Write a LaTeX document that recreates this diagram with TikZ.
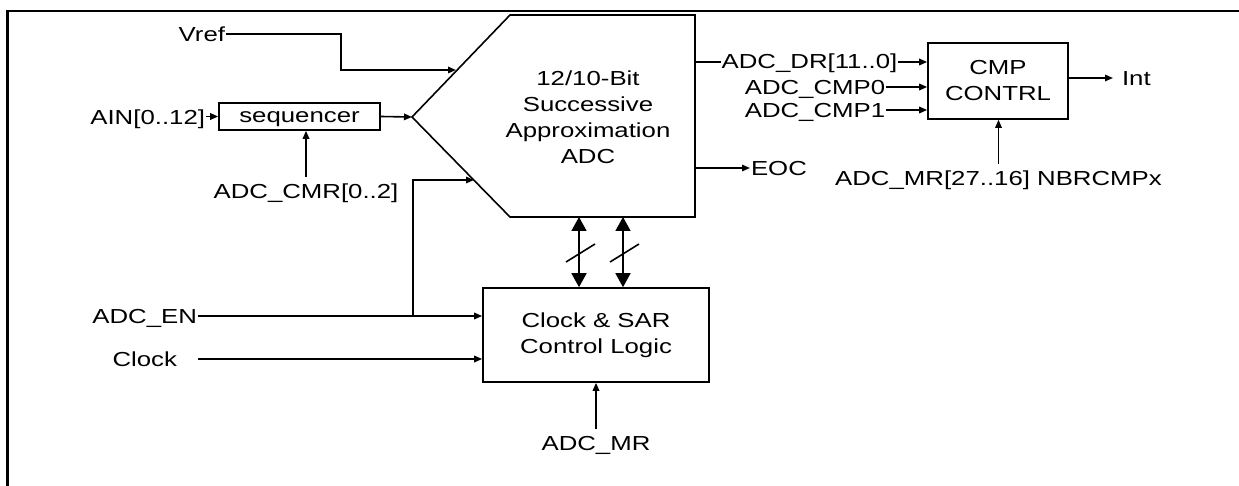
\documentclass[tikz,border=0pt]{standalone}
\usepackage{fontspec}
\setmainfont{Liberation Sans}[FakeStretch=1.27]
\usetikzlibrary{arrows.meta,calc}
\begin{document}
\begin{tikzpicture}[x=1pt,y=-1pt,
  every node/.style={font=\fontsize{20.3}{26}\selectfont},
  lbl/.style={inner sep=0pt,outer sep=1pt,text height=14.5pt,text depth=0pt},
  blk/.style={draw,line width=1.6pt,inner sep=0pt,align=center},
  sblk/.style={draw,line width=1.6pt,inner sep=0pt,text height=14pt,text depth=1pt},
  wire/.style={line width=1.6pt},
  arr/.style={wire,-{Triangle[length=8pt,width=6.5pt]}},
  bigarr/.style={wire,{Triangle[length=14pt,width=15pt]}-{Triangle[length=14pt,width=15pt]}},
  frameline/.style={line width=2.4pt}]
\useasboundingbox (0,0) rectangle (1239,486);
% frame (cropped)
\draw[frameline] (7.5,490) -- (7.5,11) -- (1245,11);

% ADC block
\draw[line width=1.6pt,line join=miter] (510,15) -- (695,15) -- (695,217) -- (510,217) -- (412,117) -- cycle;
\node[align=center,inner sep=0pt] (adc) at (588,117) {12/10-Bit\\Successive\\Approximation\\ADC};
\coordinate (adcVref) at (456,70);
\coordinate (adcTip) at (412,117);
\coordinate (adcEn) at (474,180);
\coordinate (adcDR) at (695,62);
\coordinate (adcEOC) at (695,168);
\coordinate (bus1) at (579,217);
\coordinate (bus2) at (623,217);

% boxes
\node[sblk,minimum width=161pt,minimum height=27pt] (seq) at (299.5,116.5) {sequencer};
\node[blk,minimum width=226pt,minimum height=94pt] (sar) at (596,335) {Clock \& SAR\\Control Logic};
\node[blk,minimum width=140pt,minimum height=76pt] (cmp) at (998,81) {CMP\\CONTRL};

% labels
\node[lbl,anchor=east] (vref) at (226,34) {Vref};
\node[lbl,anchor=east] (ain) at (206,117) {AIN[0..12]};
\node[lbl] (cmr) at (306,191) {ADC\_CMR[0..2]};
\node[lbl] (dr) at (809.5,61) {ADC\_DR[11..0]};
\node[lbl] (c0) at (815,87) {ADC\_CMP0};
\node[lbl] (c1) at (815,110) {ADC\_CMP1};
\node[lbl,anchor=west] (int) at (1121,78) {Int};
\node[lbl,anchor=west] (eoc) at (750,168) {EOC};
\node[lbl] (mrx) at (998.5,178) {ADC\_MR[27..16] NBRCMPx};
\node[lbl,anchor=east] (en) at (198,316) {ADC\_EN};
\node[lbl,anchor=east] (clk) at (178,359) {Clock};
\node[lbl] (mr) at (596,443) {ADC\_MR};

\coordinate (vrefBend) at (341,70);
\coordinate (enJ) at (413,316);

% connectors
\draw[arr] (vref.east) -| (vrefBend) -- (adcVref);
\draw[arr] (ain.east |- seq.west) -- (seq.west);
\draw[arr] (seq.east) -- (adcTip);
\draw[arr,shorten <=6pt] (cmr.north) -- (cmr.north |- seq.south);
\draw[arr] (en.east) -- (en.east -| sar.west);
\draw[arr] (enJ) |- (adcEn);
\draw[arr,shorten <=20pt] (clk.east) -- (clk.east -| sar.west);
\draw[arr,shorten <=6pt] (mr.north) -- (mr.north |- sar.south);
\draw[bigarr] (bus1) -- (bus1 |- sar.north);
\draw[bigarr] (bus2) -- (bus2 |- sar.north);
\draw[wire] ($(bus1)+(-13,45)$) -- ++(29,-18);
\draw[wire] ($(bus2)+(-13,45)$) -- ++(29,-18);
\draw[wire] (adcDR) -- (adcDR -| dr.west);
\draw[arr] (dr.east |- adcDR) -- (adcDR -| cmp.west);
\draw[arr] (c0.east) -- (c0.east -| cmp.west);
\draw[arr] (c1.east) -- (c1.east -| cmp.west);
\draw[arr,shorten >=8pt] (cmp.east |- int.west) -- (int.west);
\draw[arr] (adcEOC) -- (eoc.west);
\draw[arr,shorten <=6pt] (mrx.north) -- (mrx.north |- cmp.south);
\end{tikzpicture}
\end{document}
